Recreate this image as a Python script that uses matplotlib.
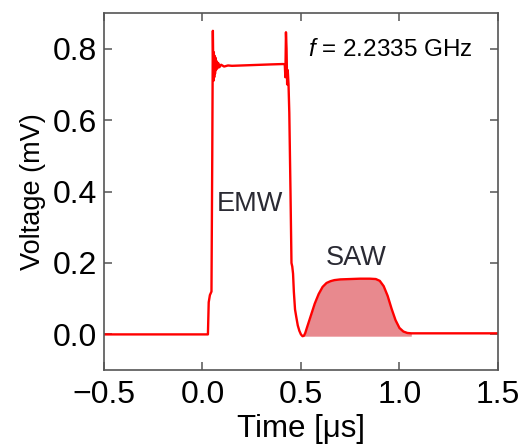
import numpy as np
import matplotlib.pyplot as plt

plt.rcParams['font.family'] = ['Liberation Sans', 'DejaVu Sans']
plt.rcParams['mathtext.fontset'] = 'custom'
plt.rcParams['mathtext.it'] = 'Liberation Sans:italic'
plt.rcParams['mathtext.rm'] = 'Liberation Sans'

# time (us) and voltage (mV)
time_us = [-0.5, 0.0, 0.028, 0.032, 0.038, 0.046, 0.050, 0.053, 0.056, 0.058,
           0.060, 0.062, 0.064, 0.066, 0.069, 0.072, 0.076, 0.080, 0.086, 0.095,
           0.11, 0.13, 0.15, 0.25, 0.35, 0.41, 0.418, 0.421, 0.424, 0.427,
           0.430, 0.433, 0.437, 0.441, 0.447, 0.452, 0.456, 0.460, 0.464, 0.470,
           0.476, 0.484, 0.492, 0.500, 0.508, 0.515, 0.522, 0.53, 0.55, 0.57,
           0.59, 0.61, 0.63, 0.65, 0.67, 0.70, 0.75, 0.80, 0.85, 0.88,
           0.90, 0.92, 0.94, 0.96, 0.98, 1.00, 1.02, 1.04, 1.06, 1.10,
           1.3, 1.5]
voltage_mv = [0.0, 0.0, 0.0, 0.09, 0.11, 0.12, 0.50, 0.85, 0.71, 0.79,
              0.72, 0.78, 0.73, 0.775, 0.74, 0.765, 0.745, 0.76, 0.748, 0.755,
              0.750, 0.753, 0.752, 0.754, 0.756, 0.757, 0.756, 0.72, 0.846, 0.80,
              0.70, 0.74, 0.70, 0.62, 0.40, 0.20, 0.19, 0.17, 0.12, 0.07,
              0.05, 0.025, 0.01, 0.0, -0.005, -0.004, 0.004, 0.018, 0.052, 0.086,
              0.113, 0.133, 0.144, 0.149, 0.152, 0.154, 0.155, 0.156, 0.156, 0.155,
              0.150, 0.135, 0.108, 0.072, 0.040, 0.018, 0.008, 0.004, 0.003, 0.003,
              0.003, 0.003]

saw_start, saw_end = 0.51, 1.07

fig = plt.figure(figsize=(5.22, 4.47), dpi=100)
ax = fig.add_axes([0.199, 0.172, 0.755, 0.799])

t = np.array(time_us)
v = np.array(voltage_mv)
saw = (t >= saw_start) & (t <= saw_end)
ax.fill_between(t, v, -0.005, where=saw, color='#e8898e', lw=0, zorder=1)
ax.plot(t, v, color='#ff0000', lw=1.7, zorder=2)

ax.set_xlim(-0.5, 1.5)
ax.set_ylim(-0.1, 0.9)
ax.set_xticks([-0.5, 0.0, 0.5, 1.0, 1.5])
ax.set_yticks([0.0, 0.2, 0.4, 0.6, 0.8])
ax.xaxis.set_major_formatter(plt.FuncFormatter(lambda x, p: f'{x:.1f}'.replace('-', '\u2212')))
ax.yaxis.set_major_formatter(plt.FuncFormatter(lambda x, p: f'{x:.1f}'))
ax.tick_params(direction='in', top=True, right=True, length=6, width=1.1,
               color='#555555', labelsize=23)
ax.tick_params(axis='x', pad=7)
ax.tick_params(axis='y', pad=5)
for s in ax.spines.values():
    s.set_color('#555555')
    s.set_linewidth(1.2)

ax.set_xlabel('Time [\u03bcs]', fontsize=22.5, labelpad=3)
ax.set_ylabel('Voltage (mV)', fontsize=19.5, labelpad=5)

ax.text(0.535, 0.795, '$f$ = 2.2335 GHz', fontsize=17.5, ha='left', va='center')
ax.text(0.24, 0.365, 'EMW', fontsize=19.5, color='#2a2a33', ha='center', va='center')
ax.text(0.78, 0.215, 'SAW', fontsize=19.5, color='#2a2a33', ha='center', va='center')

fig.savefig('out.png', dpi=100)
